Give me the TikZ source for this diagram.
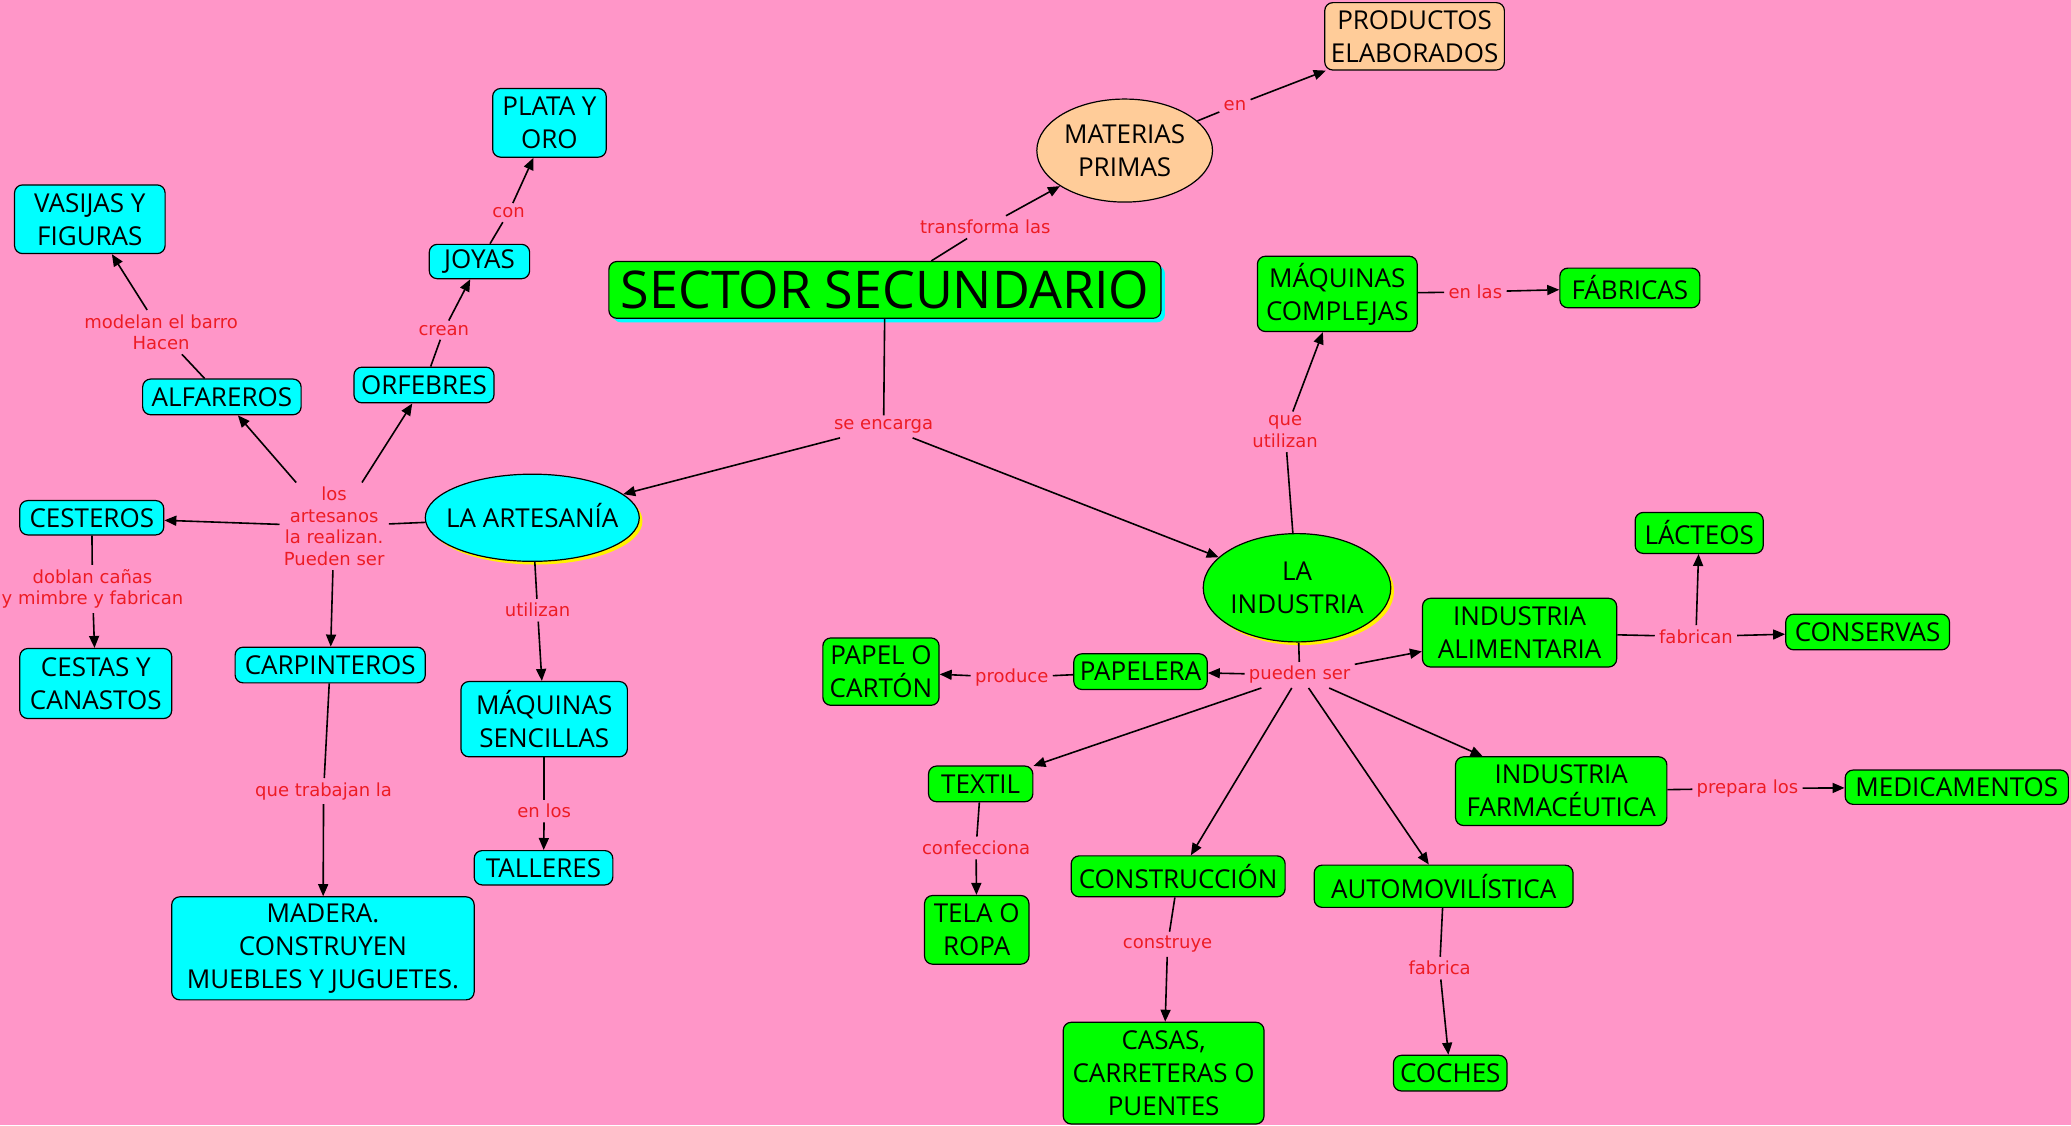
\documentclass[tikz,border=0pt]{standalone}
\usepackage{fontspec}
\setmainfont{Open Sans}
\newfontfamily\lblfont{DejaVu Sans}
\usetikzlibrary{shapes.geometric,arrows.meta,shadows}
\definecolor{bgpink}{RGB}{255,150,200}
\definecolor{cgreen}{RGB}{0,255,0}
\definecolor{ccyan}{RGB}{0,255,255}
\definecolor{cpeach}{RGB}{255,204,153}
\definecolor{lblred}{RGB}{237,28,36}
\newcommand{\ztext}[1]{\makebox[0pt]{\raisebox{-1.5pt}[\height][\depth]{\begin{tabular}{@{}c@{}}#1\end{tabular}}}}
\begin{document}
\begin{tikzpicture}[x=0.6604pt,y=-0.6604pt,
  base/.style={draw=black,line width=0.6pt,rounded corners=4pt,align=center,inner sep=1pt,text=black,
    font=\fontsize{13}{16.5}\selectfont},
  gbox/.style 2 args={base,fill=cgreen,minimum width=#1*0.6604pt,minimum height=#2*0.6604pt},
  cbox/.style 2 args={base,fill=ccyan,minimum width=#1*0.6604pt,minimum height=#2*0.6604pt},
  pbox/.style 2 args={base,fill=cpeach,minimum width=#1*0.6604pt,minimum height=#2*0.6604pt},
  ell/.style 2 args={draw=black,line width=0.6pt,ellipse,inner sep=0pt,text=black,
    font=\fontsize{13}{16.5}\selectfont,minimum width=#1*0.6604pt,minimum height=#2*0.6604pt},
  ysh/.style={drop shadow={shadow xshift=1.6pt,shadow yshift=-1.6pt,fill=yellow,opacity=1}},
  lbl/.style={text=lblred,font=\lblfont\fontsize{9}{10.8}\selectfont,align=center,inner sep=2pt,yshift=-1.3pt},
  ln/.style={draw=black,line width=0.8pt},
  ar/.style={ln,-{Triangle[length=6pt,width=5pt]}}
]
\useasboundingbox (0,0) rectangle (1568,852);
\fill[bgpink] (0,0) rectangle (1568,852);

% concepts
\node[pbox={136}{51}] (prod) at (1071,27.5) {PRODUCTOS\\ELABORADOS};
\node[ell={133}{78},fill=cpeach] (mat) at (851.5,114) {\ztext{MATERIAS\\PRIMAS}};
\node[gbox={418}{43},font=\fontsize{26}{30}\selectfont,
  drop shadow={shadow xshift=2pt,shadow yshift=-2pt,fill=ccyan,opacity=1}] (sec) at (670,219.5) {SECTOR SECUNDARIO};
\node[gbox={121}{57}] (mcomp) at (1012.5,222.5) {MÁQUINAS\\COMPLEJAS};
\node[gbox={106}{30}] (fab) at (1234,218) {FÁBRICAS};
\node[cbox={86}{52}] (plata) at (416,93) {PLATA Y\\ORO};
\node[cbox={114}{52}] (vasijas) at (68,166) {VASIJAS Y\\FIGURAS};
\node[cbox={76}{26}] (joyas) at (363,198) {JOYAS};
\node[cbox={106}{27}] (orf) at (321,291.5) {ORFEBRES};
\node[cbox={120}{27}] (alf) at (168,300.5) {ALFAREROS};
\node[cbox={109}{26}] (cest) at (69.5,392) {CESTEROS};
\node[ell={162}{66},fill=ccyan,ysh] (art) at (403,392) {\ztext{LA ARTESANÍA}};
\node[cbox={115}{53}] (cestas) at (72.5,517.5) {CESTAS Y\\CANASTOS};
\node[cbox={144}{27}] (carp) at (250,503.5) {CARPINTEROS};
\node[cbox={126}{57}] (msen) at (412,544.5) {MÁQUINAS\\SENCILLAS};
\node[cbox={105}{26}] (tall) at (411.5,657) {TALLERES};
\node[cbox={229}{78}] (mad) at (244.5,718) {MADERA.\\CONSTRUYEN\\MUEBLES Y JUGUETES.};
\node[ell={142}{82},fill=cgreen,ysh] (ind) at (982,445) {\ztext{LA\\INDUSTRIA}};
\node[gbox={97}{31}] (lact) at (1286.5,403.5) {LÁCTEOS};
\node[gbox={147}{52}] (alim) at (1150.5,479) {INDUSTRIA\\ALIMENTARIA};
\node[gbox={124}{27}] (cons) at (1414,478.5) {CONSERVAS};
\node[gbox={88}{51}] (papel) at (667,508.5) {PAPEL O\\CARTÓN};
\node[gbox={101}{27}] (papelera) at (863.5,508.5) {PAPELERA};
\node[gbox={79}{27}] (textil) at (742.5,593.5) {TEXTIL};
\node[gbox={79}{52}] (tela) at (739.5,704) {TELA O\\ROPA};
\node[gbox={162}{31}] (constr) at (892,663.5) {CONSTRUCCIÓN};
\node[gbox={152}{77}] (casas) at (881,812.5) {CASAS,\\CARRETERAS O\\PUENTES};
\node[gbox={196}{32}] (auto) at (1093,671) {AUTOMOVILÍSTICA};
\node[gbox={86}{27}] (coches) at (1098,812.5) {COCHES};
\node[gbox={160}{52}] (farm) at (1182,599) {INDUSTRIA\\FARMACÉUTICA};
\node[gbox={169}{26}] (medic) at (1481.5,596) {MEDICAMENTOS};

% linking phrases
\node[lbl] (l1) at (746,170) {transforma las};
\node[lbl] (l2) at (935,78) {en};
\node[lbl] (l3) at (669,321) {se encarga};
\node[lbl] (l4) at (973,325) {que\\utilizan};
\node[lbl] (l5) at (1117,219) {en las};
\node[lbl] (l6) at (385,159) {con};
\node[lbl] (l7) at (336,248) {crean};
\node[lbl] (l8) at (122,249.5) {modelan el barro\\Hacen};
\node[lbl] (l9) at (253,396.5) {los\\artesanos\\la realizan.\\Pueden ser};
\node[lbl] (l10) at (70,444) {doblan cañas\\y mimbre y fabrican};
\node[lbl] (l11) at (407,460) {utilizan};
\node[lbl] (l12) at (245,597) {que trabajan la};
\node[lbl] (l13) at (412,612) {en los};
\node[lbl] (l14) at (984,509) {pueden ser};
\node[lbl] (l15) at (766,511) {produce};
\node[lbl] (l16) at (1284,480) {fabrican};
\node[lbl] (l17) at (739,640) {confecciona};
\node[lbl] (l18) at (884,713) {construye};
\node[lbl] (l19) at (1090,731) {fabrica};
\node[lbl] (l20) at (1323,595) {prepara los};

% connectors
\draw[ln] (sec) -- (l1);  \draw[ar] (l1) -- (mat);
\draw[ln] (mat) -- (l2);  \draw[ar] (l2) -- (prod);
\draw[ln] (sec) -- (l3);  \draw[ar] (l3) -- (art);  \draw[ar] (l3) -- (ind);
\draw[ln] (ind) -- (l4);  \draw[ar] (l4) -- (mcomp);
\draw[ln] (mcomp) -- (l5); \draw[ar] (l5) -- (fab);
\draw[ln] (joyas) -- (l6); \draw[ar] (l6) -- (plata);
\draw[ln] (orf) -- (l7);  \draw[ar] (l7) -- (joyas);
\draw[ln] (alf) -- (l8);  \draw[ar] (l8) -- (vasijas);
\draw[ln] (art) -- (l9);
\draw[ar] (l9) -- (cest); \draw[ar] (l9) -- (alf); \draw[ar] (l9) -- (orf); \draw[ar] (l9) -- (carp);
\draw[ln] (cest) -- (l10); \draw[ar] (l10) -- (cestas);
\draw[ln] (art) -- (l11); \draw[ar] (l11) -- (msen);
\draw[ln] (carp) -- (l12); \draw[ar] (l12) -- (mad);
\draw[ln] (msen) -- (l13); \draw[ar] (l13) -- (tall);
\draw[ln] (ind) -- (l14);
\draw[ar] (l14) -- (papelera); \draw[ar] (l14) -- (alim); \draw[ar] (l14) -- (textil);
\draw[ar] (l14) -- (constr); \draw[ar] (l14) -- (auto); \draw[ar] (l14) -- (farm);
\draw[ln] (papelera) -- (l15); \draw[ar] (l15) -- (papel);
\draw[ln] (alim) -- (l16); \draw[ar] (l16) -- (cons); \draw[ar] (l16) -- (lact);
\draw[ln] (textil) -- (l17); \draw[ar] (l17) -- (tela);
\draw[ln] (constr) -- (l18); \draw[ar] (l18) -- (casas);
\draw[ln] (auto) -- (l19); \draw[ar] (l19) -- (coches);
\draw[ln] (farm) -- (l20); \draw[ar] (l20) -- (medic);
\end{tikzpicture}
\end{document}
